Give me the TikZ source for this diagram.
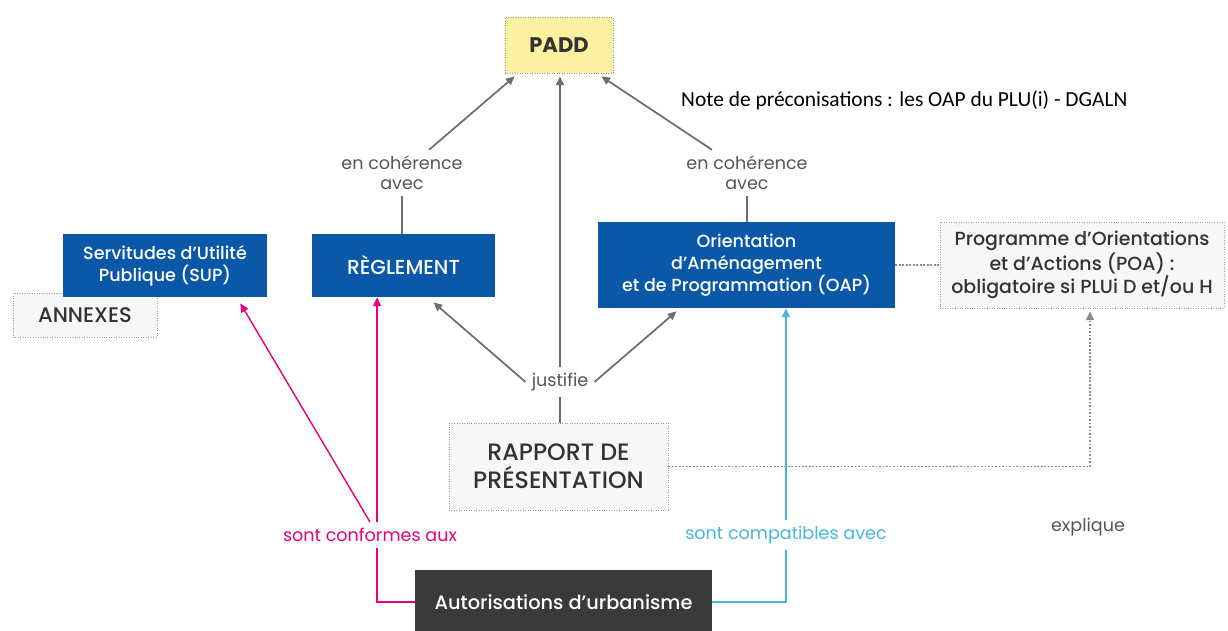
\documentclass[tikz,border=0pt]{standalone}
\usepackage{fontspec}
\setmainfont{Poppins}
\newfontfamily\boxfont{Poppins Medium}
\newfontfamily\notefont{Carlito}
\usetikzlibrary{arrows.meta}
\usetikzlibrary{calc}
\usepackage{xcolor}
\definecolor{plublue}{RGB}{12,88,168}
\definecolor{paddyellow}{RGB}{250,241,160}
\definecolor{autodark}{RGB}{58,58,58}
\definecolor{conformpink}{RGB}{230,0,126}
\definecolor{compatcyan}{RGB}{70,182,222}
\definecolor{linegrey}{RGB}{110,110,110}
\definecolor{textgrey}{RGB}{85,85,85}
\definecolor{boxgrey}{RGB}{247,247,247}

\begin{document}
\begin{tikzpicture}[x=0.02cm,y=-0.02cm,
	bluebox/.style={fill=plublue,text=white,align=center,inner sep=0pt,font=\boxfont\fontsize{10}{12.5}\selectfont},
	greybox/.style={draw=linegrey!70,densely dotted,fill=boxgrey,text=black!80,align=center,inner sep=0pt},
	relation/.style={text=textgrey,align=center,font=\fontsize{10}{11.5}\selectfont},
	>={Triangle[length=5pt,width=4.5pt]}]
	\useasboundingbox (0,0) rectangle (1228,630);
	% boxes
	\node [greybox,fill=paddyellow,minimum width=2.16cm,minimum height=1.12cm,font=\fontsize{12}{14}\selectfont\bfseries] (padd) at (559,45) {PADD};
	\node [greybox,minimum width=2.88cm,minimum height=0.88cm,font=\boxfont\fontsize{12}{14}\selectfont] (annexes) at (85,315) {ANNEXES};
	\node [bluebox,minimum width=4.08cm,minimum height=1.26cm] (sup) at (165,265.5) {Servitudes d’Utilité\\Publique (SUP)};
	\node [bluebox,minimum width=3.66cm,minimum height=1.26cm,font=\boxfont\fontsize{11.5}{13}\selectfont] (regl) at (403.5,265.5) {RÈGLEMENT};
	\node [bluebox,minimum width=5.94cm,minimum height=1.72cm] (oap) at (746.5,265) {Orientation\\d’Aménagement\\et de Programmation (OAP)};
	\node [greybox,minimum width=5.68cm,minimum height=1.72cm,font=\boxfont\fontsize{10.8}{13}\selectfont] (poa) at (1082,265) {Programme d’Orientations\\et d’Actions (POA) :\\obligatoire si PLUi D et/ou H};
	\node [greybox,minimum width=4.38cm,minimum height=1.74cm,font=\boxfont\fontsize{13.5}{16}\selectfont] (rapport) at (558.5,466.5) {RAPPORT DE\\PRÉSENTATION};
	\node [fill=autodark,text=white,minimum width=5.94cm,minimum height=1.28cm,inner sep=0pt,font=\boxfont\fontsize{11}{13}\selectfont] (autor) at (563.5,602) {Autorisations d’urbanisme};
	% labels
	\node [anchor=west,font=\notefont\fontsize{12.2}{14}\selectfont] (note) at (675,100) {Note de préconisations : les OAP du PLU(i) - DGALN};
	\node [relation] (coh1) at (402,173) {en cohérence\\avec};
	\node [relation] (coh2) at (747,173) {en cohérence\\avec};
	\node [relation] (justif) at (560,382) {justifie};
	\node [relation] (explique) at (1088,527) {explique};
	\node [relation,text=conformpink] (conf) at (370,535) {sont conformes aux};
	\node [relation,text=compatcyan] (compat) at (786,535) {sont compatibles avec};
	% grey links
	\draw [->,linegrey,line width=1pt] (coh1) -- ($(padd.south west)+(10,3)$);
	\draw [->,linegrey,line width=1pt] (coh2) -- ($(padd.south east)+(-12,3)$);
	\draw [linegrey,line width=1pt] (coh1.south) -- (coh1.south |- regl.north);
	\draw [linegrey,line width=1pt] (coh2.south) -- (coh2.south |- oap.north);
	\draw [linegrey,line width=1pt] (rapport.north -| justif.south) -- (justif.south);
	\draw [->,linegrey,line width=1pt] (justif.north) -- ($(justif.north |- padd.south)+(0,3)$);
	\draw [->,linegrey,line width=1pt] (justif.west) -- ($(regl.south)+(30,5)$);
	\draw [->,linegrey,line width=1pt] (justif.east) -- ($(oap.south)+(-70,3)$);
	\draw [linegrey!80,densely dotted,line width=1pt] (oap.east) -- (poa.west);
	\draw [->,linegrey!80,densely dotted,line width=1pt] (rapport.east) -| ($(poa.south)+(8,3)$);
	% conformity and compatibility
	\draw [->,conformpink,line width=0.8pt] (conf.north) -- ($(sup.south east)+(-27,6)$);
	\draw [->,conformpink,line width=0.8pt] ([xshift=4pt]conf.north) -- ([xshift=4pt]conf.north |- regl.south);
	\draw [conformpink,line width=0.8pt] ([xshift=4pt]conf.south) |- (autor.west);
	\draw [->,compatcyan,line width=0.8pt] (compat.north) -- (compat.north |- oap.south);
	\draw [compatcyan,line width=0.8pt] (autor.east) -| (compat.south);
\end{tikzpicture}
\end{document}
